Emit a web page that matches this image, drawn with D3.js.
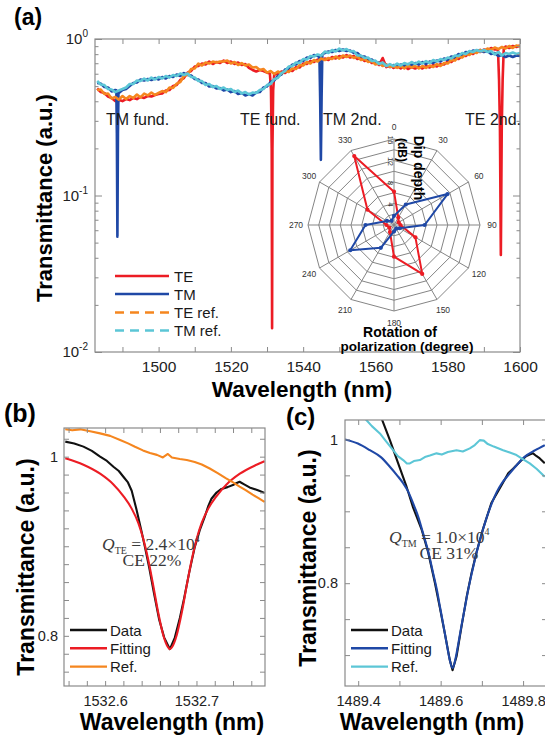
<!DOCTYPE html>
<html>
<head>
<meta charset="utf-8">
<title>Polarization-dependent transmission</title>
<script src="https://cdn.jsdelivr.net/npm/d3@7/dist/d3.min.js"></script>
<style>
  html, body { margin: 0; padding: 0; background: #fff; }
  svg { display: block; }
</style>
</head>
<body>
<svg id="fig" width="545" height="740"></svg>
<script>
// ---------------- data ----------------
// (a) broadband transmittance, sampled every 1 nm from 1483 to 1600 nm
const gridStart = 1483;
const teT = [
  0.483,0.458,0.452,0.429,0.420,0.401,0.407,0.401,0.413,0.407,
  0.420,0.413,0.426,0.420,0.432,0.429,0.439,0.445,0.448,0.469,
  0.472,0.501,0.508,0.547,0.563,0.610,0.624,0.667,0.672,0.697,
  0.687,0.718,0.692,0.713,0.702,0.728,0.702,0.718,0.692,0.708,
  0.682,0.692,0.653,0.634,0.620,0.634,0.624,0.610,0.597,0.615,
  0.593,0.620,0.606,0.634,0.624,0.662,0.657,0.697,0.692,0.723,
  0.713,0.739,0.723,0.750,0.734,0.767,0.750,0.779,0.761,0.790,
  0.761,0.779,0.745,0.756,0.723,0.734,0.702,0.713,0.682,0.756,
  0.662,0.682,0.653,0.672,0.648,0.672,0.643,0.662,0.648,0.667,
  0.648,0.672,0.657,0.682,0.667,0.692,0.687,0.718,0.713,0.750,
  0.745,0.784,0.779,0.814,0.802,0.838,0.826,0.857,0.845,0.876,
  0.857,0.876,0.870,0.896,0.876,0.902,0.889,0.909
];
const tmT = [
  0.523,0.519,0.493,0.490,0.462,0.472,0.452,0.472,0.479,0.501,
  0.523,0.527,0.551,0.543,0.555,0.547,0.563,0.551,0.572,0.559,
  0.580,0.572,0.593,0.580,0.606,0.589,0.584,0.555,0.551,0.523,
  0.523,0.497,0.501,0.483,0.486,0.469,0.476,0.458,0.465,0.445,
  0.452,0.436,0.445,0.436,0.455,0.458,0.490,0.497,0.531,0.543,
  0.580,0.593,0.638,0.648,0.687,0.687,0.723,0.723,0.761,0.756,
  0.790,0.779,0.800,0.814,0.832,0.826,0.851,0.838,0.857,0.838,
  0.845,0.814,0.814,0.773,0.773,0.734,0.739,0.702,0.708,0.677,
  0.687,0.662,0.682,0.667,0.687,0.672,0.692,0.682,0.702,0.687,
  0.713,0.692,0.718,0.702,0.728,0.718,0.750,0.734,0.773,0.761,
  0.802,0.790,0.826,0.814,0.845,0.832,0.851,0.826,0.838,0.802,
  0.814,0.779,0.790,0.767,0.784,0.767,0.784,0.779
];
const teRefT = [
  0.472,0.476,0.445,0.448,0.417,0.426,0.410,0.432,0.413,0.432,
  0.420,0.442,0.423,0.448,0.436,0.455,0.439,0.452,0.465,0.458,
  0.490,0.486,0.519,0.531,0.580,0.593,0.643,0.648,0.697,0.677,
  0.708,0.697,0.718,0.708,0.718,0.718,0.728,0.697,0.713,0.682,
  0.702,0.677,0.687,0.657,0.662,0.634,0.643,0.610,0.624,0.597,
  0.620,0.602,0.624,0.615,0.648,0.643,0.682,0.677,0.713,0.697,
  0.734,0.718,0.750,0.734,0.756,0.745,0.773,0.750,0.784,0.767,
  0.784,0.756,0.773,0.734,0.745,0.713,0.723,0.687,0.702,0.672,
  0.687,0.662,0.672,0.653,0.672,0.648,0.677,0.657,0.672,0.648,
  0.672,0.653,0.677,0.662,0.692,0.672,0.702,0.697,0.734,0.728,
  0.773,0.761,0.802,0.790,0.826,0.814,0.851,0.838,0.869,0.851,
  0.882,0.863,0.889,0.869,0.902,0.876,0.909,0.896
];
const tmRefT = [
  0.539,0.512,0.508,0.479,0.476,0.458,0.469,0.479,0.490,0.516,
  0.516,0.543,0.539,0.559,0.543,0.567,0.551,0.572,0.559,0.580,
  0.567,0.589,0.580,0.602,0.589,0.602,0.572,0.567,0.539,0.539,
  0.508,0.516,0.493,0.501,0.479,0.490,0.472,0.479,0.458,0.469,
  0.448,0.458,0.442,0.455,0.452,0.472,0.479,0.508,0.516,0.555,
  0.563,0.606,0.624,0.667,0.672,0.708,0.702,0.745,0.739,0.779,
  0.773,0.796,0.784,0.832,0.814,0.851,0.832,0.869,0.845,0.863,
  0.832,0.838,0.784,0.784,0.756,0.761,0.723,0.728,0.692,0.708,
  0.672,0.692,0.672,0.697,0.677,0.702,0.687,0.713,0.692,0.718,
  0.697,0.723,0.702,0.734,0.718,0.745,0.734,0.761,0.750,0.784,
  0.779,0.814,0.802,0.838,0.826,0.851,0.832,0.851,0.826,0.838,
  0.796,0.826,0.784,0.814,0.802,0.820,0.802,0.814
];
// narrow resonances, [wavelength (nm), transmittance]
const teFundDip = [[1530.8,0.600],[1531.1,0.470],[1531.3,0.200],[1531.4,0.0142],[1531.5,0.200],[1531.7,0.470],[1532.0,0.600]];
const te2ndDip  = [[1593.9,0.860],[1594.2,0.550],[1594.45,0.270],[1594.7,0.0417],[1594.95,0.270],[1595.2,0.550],[1595.5,0.860]];
const tmFundDip = [[1488.3,0.470],[1488.45,0.250],[1488.6,0.0546],[1488.75,0.250],[1488.9,0.460]];
const tm2ndDip  = [[1544.5,0.770],[1544.7,0.420],[1544.9,0.169],[1545.1,0.420],[1545.3,0.800]];

const aXTicks  = [1490,1500,1510,1520,1530,1540,1550,1560,1570,1580,1590,1600];
const aXLabels = [1500,1520,1540,1560,1580,1600];
const aYMajor  = [0.01,0.1,1];
const aYExp    = ["-2","-1","0"];
const aYMinor  = [0.02,0.03,0.04,0.05,0.06,0.07,0.08,0.09,0.2,0.3,0.4,0.5,0.6,0.7,0.8,0.9];

const legendA = ["TE","TM","TE ref.","TM ref."];
const resonanceNames = ["TM fund.","TE fund.","TM 2nd.","TE 2nd."];

// inset: dip depth (dB) versus rotation of polarization (degree)
const polAngles = [0,30,60,90,120,150,180,210,240,270,300,330];
const polTE = [6.2,1.6,1.0,1.2,4.6,10.5,5.9,1.5,1.0,1.4,5.7,14.8];
const polTM = [1.7,4.4,11.5,5.7,1.2,0.8,1.2,4.9,9.4,5.3,1.5,0.9];
const polRings = [2,4,6,8,10,12,14,16];
const polRadLabels = [4,8,12,16];

// (b) TE fundamental resonance
const bDataWl = [1532.5564,1532.5662,1532.5763,1532.5855,1532.5945,1532.6020,1532.6091,1532.6150,1532.6200,1532.6250,
  1532.6291,1532.6346,1532.6400,1532.6436,1532.6483,1532.6534,1532.6592,1532.6647,1532.6709,1532.6763,
  1532.6818,1532.6865,1532.6919,1532.6981,1532.7036,1532.7091,1532.7130,1532.7164,1532.7220,1532.7273,
  1532.7340,1532.7399,1532.7428,1532.7472,1532.7527,1532.7581,1532.7672,1532.7745];
const bDataT = [1.0168,1.0148,1.0112,1.0064,1.0000,0.9952,0.9888,0.9840,0.9776,0.9712,
  0.9620,0.9400,0.9160,0.8990,0.8760,0.8480,0.8180,0.7980,0.7851,0.7980,
  0.8200,0.8420,0.8700,0.8990,0.9180,0.9330,0.9450,0.9530,0.9600,0.9640,
  0.9660,0.9683,0.9700,0.9720,0.9688,0.9657,0.9626,0.9596];
const bFitWl = [1532.5564,1532.5763,1532.5945,1532.6091,1532.6200,1532.6291,1532.6363,1532.6418,1532.6472,1532.6527,
  1532.6581,1532.6636,1532.6690,1532.6709,1532.6730,1532.6784,1532.6839,1532.6893,1532.6948,1532.7002,
  1532.7057,1532.7129,1532.7220,1532.7329,1532.7475,1532.7657,1532.7745];
const bFitT = [0.9982,0.9910,0.9810,0.9690,0.9560,0.9420,0.9260,0.9080,0.8850,0.8560,
  0.8260,0.8010,0.7870,0.7851,0.7870,0.8010,0.8260,0.8560,0.8850,0.9080,
  0.9260,0.9420,0.9560,0.9690,0.9810,0.9910,0.9950];
const bRefWl = [1532.5564,1532.5640,1532.5727,1532.5836,1532.5945,1532.6055,1532.6164,1532.6251,1532.6327,1532.6414,
  1532.6491,1532.6567,1532.6632,1532.6687,1532.6731,1532.6818,1532.6894,1532.6981,1532.7058,1532.7145,
  1532.7232,1532.7320,1532.7396,1532.7472,1532.7538,1532.7614,1532.7679,1532.7745];
const bRefT = [1.0307,1.0294,1.0305,1.0283,1.0260,1.0232,1.0187,1.0148,1.0110,1.0070,
  1.0040,1.0020,0.9991,1.0030,0.9991,0.9974,0.9963,0.9941,0.9913,0.9868,
  0.9817,0.9761,0.9716,0.9666,0.9626,0.9576,0.9537,0.9495];
const bXTicks  = [1532.56,1532.58,1532.60,1532.62,1532.64,1532.66,1532.68,1532.70,1532.72,1532.74,1532.76];
const bXLabels = [1532.6,1532.7];
const bYTicks  = [0.76,0.78,0.80,0.82,0.84,0.86,0.88,0.90,0.92,0.94,0.96,0.98,1.00,1.02];
const bYLabels = [0.8,1];

// (c) TM fundamental resonance
const cDataWl = [1489.4405,1489.4567,1489.4769,1489.4970,1489.5173,1489.5333,1489.5537,1489.5697,1489.5859,1489.5981,
  1489.6102,1489.6223,1489.6289,1489.6385,1489.6507,1489.6628,1489.6749,1489.6870,1489.7030,1489.7234,
  1489.7515,1489.7640,1489.7750,1489.7840,1489.7940,1489.8082,1489.8160,1489.8242,1489.8320,1489.8405,1489.8526];
const cDataT = [1.0407,1.0292,0.9990,0.9667,0.9342,0.9050,0.8750,0.8430,0.8010,0.7660,
  0.7300,0.6930,0.6790,0.6980,0.7400,0.7800,0.8140,0.8430,0.8760,0.9120,
  0.9400,0.9530,0.9590,0.9640,0.9700,0.9770,0.9790,0.9806,0.9770,0.9736,0.9667];
const cFitWl = [1489.3677,1489.3993,1489.4283,1489.4550,1489.4768,1489.4938,1489.5091,1489.5216,1489.5333,1489.5459,
  1489.5576,1489.5702,1489.5818,1489.5908,1489.5981,1489.6065,1489.6143,1489.6211,1489.6289,1489.6364,
  1489.6432,1489.6509,1489.6594,1489.6669,1489.6756,1489.6877,1489.6999,1489.7120,1489.7241,1489.7362,
  1489.7484,1489.7641,1489.7811,1489.8029,1489.8296,1489.8526];
const cFitT = [1.000,0.9942,0.985,0.9754,0.962,0.9504,0.939,0.927,0.911,0.892,
  0.869,0.8435,0.814,0.791,0.768,0.742,0.717,0.696,0.682,0.696,
  0.717,0.742,0.768,0.791,0.814,0.8435,0.869,0.892,0.911,0.927,
  0.939,0.9504,0.962,0.9754,0.985,0.992];
const cRefWl = [1489.4162,1489.4332,1489.4526,1489.4672,1489.4848,1489.4962,1489.5091,1489.5181,1489.5253,1489.5350,
  1489.5496,1489.5617,1489.5738,1489.5901,1489.6029,1489.6175,1489.6385,1489.6538,1489.6708,1489.6829,
  1489.6950,1489.7047,1489.7144,1489.7290,1489.7515,1489.7678,1489.7840,1489.7993,1489.8162,1489.8332,1489.8526];
const cRefT = [1.0292,1.0185,1.0083,0.9976,0.985,0.9767,0.9713,0.9664,0.9667,0.9699,
  0.9713,0.9754,0.9775,0.9806,0.9789,0.9824,0.985,0.9831,0.9875,0.9921,
  0.999,0.9983,0.9935,0.990,0.985,0.9817,0.9782,0.9726,0.9667,0.9588,0.948];
const cXTicks  = [1489.4,1489.5,1489.6,1489.7,1489.8];
const cXLabels = [1489.4,1489.6,1489.8];
const cYTicks  = [0.70,0.75,0.80,0.85,0.90,0.95,1.00];
const cYLabels = [0.8,1];

const legendBC = ["Data","Fitting","Ref."];

// ---------------- style ----------------
const SANS  = "Arial, 'Liberation Sans', Helvetica, sans-serif";
const SERIF = "'Times New Roman', 'Liberation Serif', serif";
const RED = "#ec1c24", BLUE = "#1f48a6", ORANGE = "#f5861f", CYAN = "#5cc6d6", BLACK = "#111";
const AXIS_GRAY = "#8a8a8a", TICK_TEXT = "#222";

const svg = d3.select("#fig");
svg.append("rect").attr("width", 545).attr("height", 740).attr("fill", "#fff");

const isIn = (arr, v) => arr.some(u => Math.abs(u - v) < 1e-9);

function styleAxis(sel, font) {
  sel.select(".domain").remove();
  sel.attr("font-size", null).attr("font-family", null);
  sel.selectAll(".tick line").attr("stroke", AXIS_GRAY).attr("stroke-width", 1);
  sel.selectAll(".tick text").attr("fill", TICK_TEXT).attr("font-size", font).attr("font-family", SANS);
}

function boxAxes(g, x, y, P, o) {
  g.append("g").attr("transform", `translate(0,${P.b})`)
    .call(d3.axisBottom(x).tickValues(o.xTicks).tickSize(-o.len).tickPadding(o.xPad)
      .tickFormat(v => isIn(o.xLabels, v) ? o.xFmt(v) : ""))
    .call(s => styleAxis(s, o.font));
  g.append("g").attr("transform", `translate(0,${P.t})`)
    .call(d3.axisTop(x).tickValues(o.xTicks).tickSize(-o.len).tickFormat(() => ""))
    .call(s => styleAxis(s, o.font));
  g.append("g").attr("transform", `translate(${P.l},0)`)
    .call(d3.axisLeft(y).tickValues(o.yTicks).tickSize(-o.yLen).tickPadding(o.yPad)
      .tickFormat(v => isIn(o.yLabels, v) ? o.yFmt(v) : ""))
    .call(s => styleAxis(s, o.font));
  g.append("g").attr("transform", `translate(${P.r},0)`)
    .call(d3.axisRight(y).tickValues(o.yTicks).tickSize(-o.yLen).tickFormat(() => ""))
    .call(s => styleAxis(s, o.font));
  g.append("rect").attr("x", P.l).attr("y", P.t)
    .attr("width", P.r - P.l).attr("height", P.b - P.t)
    .attr("fill", "none").attr("stroke", AXIS_GRAY).attr("stroke-width", 1.2);
}

function clipFor(id, P) {
  svg.append("clipPath").attr("id", id).append("rect")
    .attr("x", P.l).attr("y", P.t).attr("width", P.r - P.l).attr("height", P.b - P.t);
  return `url(#${id})`;
}

function axisTitle(txt, x, y, rot, size) {
  svg.append("text").text(txt)
    .attr("transform", `translate(${x},${y})` + (rot ? ` rotate(${rot})` : ""))
    .attr("text-anchor", "middle").attr("font-family", SANS)
    .attr("font-weight", "bold").attr("font-size", size).attr("fill", "#000");
}

function panelTag(txt, x, y, size) {
  svg.append("text").text(txt).attr("x", x).attr("y", y)
    .attr("font-family", SANS).attr("font-weight", "bold").attr("font-size", size).attr("fill", "#000");
}

// ================= panel (a) =================
const A = { l: 95, r: 520, t: 39, b: 352 };
const xA = d3.scaleLinear().domain([1482.4, 1600]).range([A.l, A.r]);
const yA = d3.scaleLog().domain([0.01, 1]).range([A.b, A.t]);
const gA = svg.append("g");

function withDips(vals, dips) {
  let pts = vals.map((t, i) => [gridStart + i, t]);
  dips.forEach(d => {
    const lo = d[0][0], hi = d[d.length - 1][0];
    pts = pts.filter(p => p[0] < lo || p[0] > hi).concat(d);
  });
  return pts.sort((a, b) => a[0] - b[0]);
}
const seriesA = [
  { pts: withDips(teT, [teFundDip, te2ndDip]), color: RED },
  { pts: withDips(tmT, [tmFundDip, tm2ndDip]), color: BLUE },
  { pts: withDips(teRefT, []), color: ORANGE },
  { pts: withDips(tmRefT, []), color: CYAN }
];
const lineA = d3.line().x(d => xA(d[0])).y(d => yA(d[1]));
const clipA = clipFor("clipA", A);
const curvesA = gA.append("g").attr("clip-path", clipA);
seriesA.forEach(s => {
  curvesA.append("path").datum(s.pts).attr("d", lineA)
    .attr("fill", "none").attr("stroke", s.color).attr("stroke-width", 2.6)
    .attr("stroke-linejoin", "round");
});

boxAxes(gA, xA, yA, A, {
  xTicks: aXTicks, xLabels: aXLabels, xFmt: d3.format("d"), len: 5, xPad: 9,
  yTicks: aYMinor, yLabels: [], yFmt: () => "", yLen: 3.5, yPad: 6, font: 15.5
});
// major decade ticks
gA.append("g").attr("transform", `translate(${A.l},0)`)
  .call(d3.axisLeft(yA).tickValues(aYMajor).tickSize(-7).tickFormat(() => ""))
  .call(s => styleAxis(s, 15));
gA.append("g").attr("transform", `translate(${A.r},0)`)
  .call(d3.axisRight(yA).tickValues(aYMajor).tickSize(-7).tickFormat(() => ""))
  .call(s => styleAxis(s, 15));
aYMajor.forEach((v, i) => {
  const t = gA.append("text").attr("x", A.l - 7).attr("y", yA(v) + 5)
    .attr("text-anchor", "end").attr("font-family", SANS).attr("fill", TICK_TEXT).attr("font-size", 15);
  t.append("tspan").text("10");
  t.append("tspan").text(aYExp[i]).attr("font-size", 10).attr("dy", -7);
});

axisTitle("Transmittance (a.u.)", 52, 198, -90, 22);
axisTitle("Wavelength (nm)", 302, 397, 0, 22.5);
panelTag("(a)", 14, 25, 23);

// resonance annotations
const resX = [106, 240, 323, 465];
resonanceNames.forEach((n, i) => {
  gA.append("text").text(n).attr("x", resX[i]).attr("y", 125)
    .attr("font-family", SANS).attr("font-size", 16).attr("fill", "#1a1a1a");
});

// legend (a)
const legStyles = [
  { c: RED, dash: null }, { c: BLUE, dash: null },
  { c: ORANGE, dash: "9,6" }, { c: CYAN, dash: "9,6" }
];
const legY = [276, 294, 312.5, 330.5];
legendA.forEach((name, i) => {
  gA.append("line").attr("x1", 115).attr("x2", 169).attr("y1", legY[i]).attr("y2", legY[i])
    .attr("stroke", legStyles[i].c).attr("stroke-width", 2.6)
    .attr("stroke-dasharray", legStyles[i].dash);
  gA.append("text").text(name).attr("x", 174).attr("y", legY[i] + 5.5)
    .attr("font-family", SANS).attr("font-size", 15).attr("fill", "#1a1a1a");
});

// polar inset
const polC = { x: 394, y: 225 };
const rP = d3.scaleLinear().domain([0, 16]).range([0, 86]);
const rad = a => a * Math.PI / 180;
const gP = svg.append("g").attr("transform", `translate(${polC.x},${polC.y})`);
const ringLine = d3.lineRadial().angle(d => rad(d[0])).radius(d => rP(d[1])).curve(d3.curveLinearClosed);
polRings.forEach(r => {
  gP.append("path").datum(polAngles.map(a => [a, r])).attr("d", ringLine)
    .attr("fill", "none").attr("stroke", "#858585").attr("stroke-width", 1);
});
polAngles.forEach(a => {
  gP.append("line").attr("x1", 0).attr("y1", 0)
    .attr("x2", rP(16) * Math.sin(rad(a))).attr("y2", -rP(16) * Math.cos(rad(a)))
    .attr("stroke", "#858585").attr("stroke-width", 1);
  gP.append("text").text(a)
    .attr("x", 98 * Math.sin(rad(a))).attr("y", -98 * Math.cos(rad(a)))
    .attr("text-anchor", "middle").attr("dominant-baseline", "central")
    .attr("font-family", SANS).attr("font-size", 8.5).attr("fill", "#333");
});
polRadLabels.forEach(v => {
  gP.append("text").text(v)
    .attr("transform", `translate(-4,${-rP(v) + 1}) rotate(90)`)
    .attr("text-anchor", "middle").attr("dominant-baseline", "central")
    .attr("font-family", SANS).attr("font-size", 8).attr("fill", "#333");
});
[{ v: polTE, c: RED }, { v: polTM, c: BLUE }].forEach(s => {
  const pts = polAngles.map((a, i) => [a, s.v[i]]);
  gP.append("path").datum(pts).attr("d", ringLine)
    .attr("fill", "none").attr("stroke", s.c).attr("stroke-width", 2).attr("stroke-linejoin", "round");
  gP.selectAll(null).data(pts).enter().append("circle")
    .attr("cx", d => rP(d[1]) * Math.sin(rad(d[0])))
    .attr("cy", d => -rP(d[1]) * Math.cos(rad(d[0])))
    .attr("r", 2.1).attr("fill", s.c);
});
svg.append("text").text("Dip depth").attr("transform", "translate(419,168) rotate(90)")
  .attr("text-anchor", "middle").attr("dominant-baseline", "central")
  .attr("font-family", SANS).attr("font-weight", "bold").attr("font-size", 14).attr("fill", "#000");
svg.append("text").text("(dB)").attr("transform", "translate(402,150) rotate(90)")
  .attr("text-anchor", "middle").attr("dominant-baseline", "central")
  .attr("font-family", SANS).attr("font-weight", "bold").attr("font-size", 12).attr("fill", "#000");
svg.append("text").text("Rotation of").attr("x", 400).attr("y", 337)
  .attr("text-anchor", "middle").attr("font-family", SANS).attr("font-weight", "bold")
  .attr("font-size", 14).attr("fill", "#000");
svg.append("text").text("polarization (degree)").attr("x", 407).attr("y", 351)
  .attr("text-anchor", "middle").attr("font-family", SANS).attr("font-weight", "bold")
  .attr("font-size", 13.5).attr("fill", "#000");

// ================= panels (b) and (c) =================
function resonancePanel(cfg) {
  const P = cfg.P;
  const g = svg.append("g");
  const x = d3.scaleLinear().domain(cfg.xDom).range([P.l, P.r]);
  const y = d3.scaleLinear().domain(cfg.yDom).range([P.b, P.t]);
  const clip = clipFor(cfg.id, P);
  const plot = g.append("g").attr("clip-path", clip);
  const raw = d3.line().x(d => x(d[0])).y(d => y(d[1]));
  const smooth = d3.line().x(d => x(d[0])).y(d => y(d[1])).curve(d3.curveMonotoneX);
  cfg.series.forEach(s => {
    plot.append("path").datum(d3.zip(s.wl, s.t)).attr("d", s.smooth ? smooth : raw)
      .attr("fill", "none").attr("stroke", s.color).attr("stroke-width", 2.1)
      .attr("stroke-linejoin", "round");
  });
  boxAxes(g, x, y, P, {
    xTicks: cfg.xTicks, xLabels: cfg.xLabels, xFmt: d3.format(".1f"), len: 5, xPad: 10,
    yTicks: cfg.yTicks, yLabels: cfg.yLabels, yFmt: v => String(+v.toFixed(2)),
    yLen: 5, yPad: cfg.yPad, font: 14.5
  });
  // legend
  cfg.series.forEach((s, i) => {
    const ly = P.b - 56 + i * 18.3;
    g.append("line").attr("x1", P.l + 6).attr("x2", P.l + 43).attr("y1", ly).attr("y2", ly)
      .attr("stroke", s.color).attr("stroke-width", 2.4);
    g.append("text").text(legendBC[i]).attr("x", P.l + 46).attr("y", ly + 5.5)
      .attr("font-family", SANS).attr("font-size", 15).attr("fill", "#1a1a1a");
  });
  // Q-factor / coupling efficiency annotation
  const q = g.append("text").attr("x", cfg.qx).attr("y", cfg.qy)
    .attr("font-family", SERIF).attr("font-size", 17.5).attr("fill", "#3a3a3a");
  q.append("tspan").text("Q").attr("font-style", "italic");
  q.append("tspan").text(cfg.mode).attr("font-size", 10).attr("dy", 4);
  q.append("tspan").text(" = " + cfg.qVal + "\u00d710").attr("dy", -4);
  q.append("tspan").text("4").attr("font-size", 10).attr("dy", -8);
  g.append("text").text("CE " + cfg.ce).attr("x", cfg.cex).attr("y", cfg.qy + 16)
    .attr("text-anchor", "middle").attr("font-family", SERIF).attr("font-size", 17.5).attr("fill", "#3a3a3a");
}

resonancePanel({
  id: "clipB", P: { l: 64, r: 265, t: 428, b: 686 },
  xDom: [1532.555, 1532.775], yDom: [0.744, 1.032],
  xTicks: bXTicks, xLabels: bXLabels, yTicks: bYTicks, yLabels: bYLabels, yPad: 6,
  series: [
    { wl: bDataWl, t: bDataT, color: BLACK },
    { wl: bFitWl, t: bFitT, color: RED, smooth: true },
    { wl: bRefWl, t: bRefT, color: ORANGE }
  ],
  mode: "TE", qVal: "2.4", ce: "22%", qx: 102, qy: 550, cex: 152
});
resonancePanel({
  id: "clipC", P: { l: 345, r: 547, t: 420, b: 686 },
  xDom: [1489.368, 1489.858], yDom: [0.657, 1.027],
  xTicks: cXTicks, xLabels: cXLabels, yTicks: cYTicks, yLabels: cYLabels, yPad: 7,
  series: [
    { wl: cDataWl, t: cDataT, color: BLACK },
    { wl: cFitWl, t: cFitT, color: BLUE, smooth: true },
    { wl: cRefWl, t: cRefT, color: CYAN }
  ],
  mode: "TM", qVal: "1.0", ce: "31%", qx: 389, qy: 543, cex: 449
});

axisTitle("Transmittance (a.u.)", 34, 567, -90, 23);
axisTitle("Wavelength (nm)", 172, 730, 0, 23);
axisTitle("Transmittance (a.u.)", 316, 558, -90, 23);
axisTitle("Wavelength (nm)", 432, 730, 0, 23);
panelTag("(b)", 4, 422, 25);
panelTag("(c)", 286, 425, 24);
</script>
</body>
</html>
